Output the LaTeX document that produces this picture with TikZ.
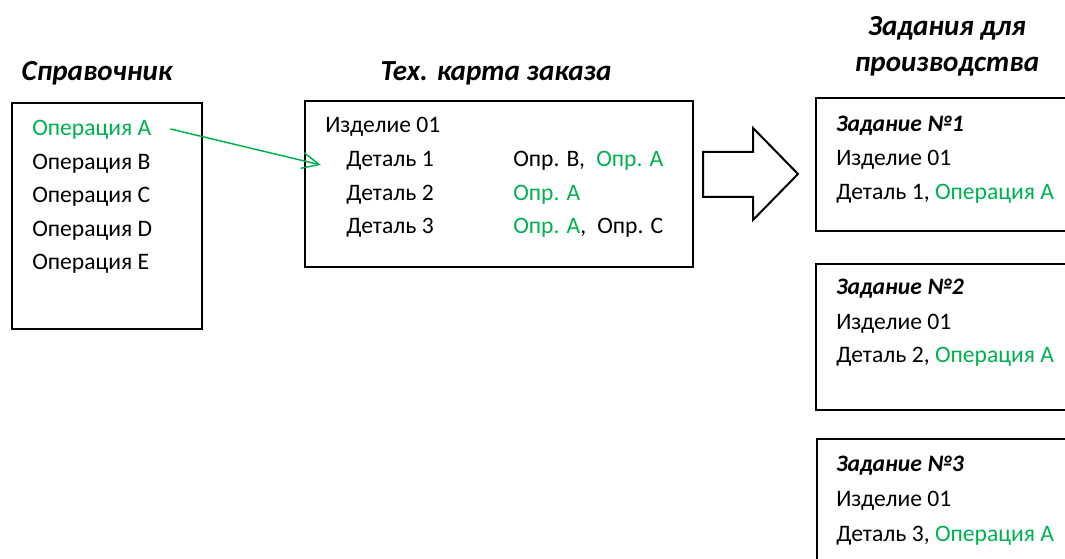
\documentclass[tikz,border=0pt]{standalone}
\usepackage{fontspec}
\setmainfont{Carlito}
\usetikzlibrary{arrows.meta}
\definecolor{okgreen}{HTML}{00B050}

\begin{document}
\begin{tikzpicture}[x=0.75pt,y=-0.75pt,
	txt/.style={anchor=base west,inner sep=0,font=\fontsize{17.7}{21}\selectfont},
	sub/.style={txt,font=\fontsize{17.7}{21}\selectfont\bfseries\itshape},
	hdr/.style={anchor=base,inner sep=0,font=\fontsize{21.8}{26}\selectfont\bfseries\itshape},
	frame/.style={draw,line width=1.5pt,anchor=north west,inner sep=0},
	ok/.style={text=okgreen}]
	\useasboundingbox (0,0) rectangle (1065,559);
	\clip (0,0) rectangle (1065,559);
	% headings
	\node[hdr] (h1) at (97,81) {Справочник};
	\node[hdr] (h2) at (496,81) {Тех. карта заказа};
	\node[hdr] (h3) at (947,36) {Задания для};
	\node[hdr] (h4) at (947,72) {производства};
	% boxes
	\node[frame,minimum width=142.5pt,minimum height=169.5pt] (b1) at (11,102) {};
	\node[frame,minimum width=291pt,minimum height=124.5pt] (b2) at (304,100) {};
	\node[frame,minimum width=198.75pt,minimum height=99.75pt] (b3) at (815,97) {};
	\node[frame,minimum width=198.75pt,minimum height=109.5pt] (b4) at (815,263) {};
	\node[frame,minimum width=198.75pt,minimum height=106.5pt] (b5) at (816,438) {};
	% reference list
	\node[txt,ok] (r1) at (32,136) {Операция A};
	\node[txt] (r2) at (32,169.5) {Операция B};
	\node[txt] (r3) at (32,203) {Операция C};
	\node[txt] (r4) at (32,236.5) {Операция D};
	\node[txt] (r5) at (32,270) {Операция E};
	% order card
	\node[txt] (m0) at (325,133) {Изделие 01};
	\node[txt] (m1) at (346,167) {Деталь 1};
	\node[txt] (m2) at (346,200.5) {Деталь 2};
	\node[txt] (m3) at (346,234) {Деталь 3};
	\node[txt] (o1) at (513,167) {Опр. B,};
	\node[txt,ok] (o2) at (596,167) {Опр. A};
	\node[txt,ok] (o3) at (513,200.5) {Опр. A};
	\node[txt] (o4) at (513,234) {\textcolor{okgreen}{Опр. A},};
	\node[txt] (o5) at (597,234) {Опр. C};
	% tasks
	\node[sub] (t1) at (836,132) {Задание №1};
	\node[txt] at (836,166) {Изделие 01};
	\node[txt] at (836,200) {Деталь 1, \textcolor{okgreen}{Операция A}};
	\node[sub] (t2) at (836,295) {Задание №2};
	\node[txt] at (836,330) {Изделие 01};
	\node[txt] at (836,363) {Деталь 2, \textcolor{okgreen}{Операция A}};
	\node[sub] (t3) at (836,472) {Задание №3};
	\node[txt] at (836,507) {Изделие 01};
	\node[txt] at (836,542) {Деталь 3, \textcolor{okgreen}{Операция A}};
	% links
	\coordinate (p) at (321,165);
	\draw[okgreen,line width=1.1pt,-{Straight Barb[length=13pt,width=12pt]}] ([xshift=14pt,yshift=1pt]r1.east) -- (p);
	\draw[line width=1.5pt,line join=miter] (703,152) -- (753,152) -- (753,128) -- (798,174) -- (753,220) -- (753,197) -- (703,197) -- cycle;
\end{tikzpicture}
\end{document}
